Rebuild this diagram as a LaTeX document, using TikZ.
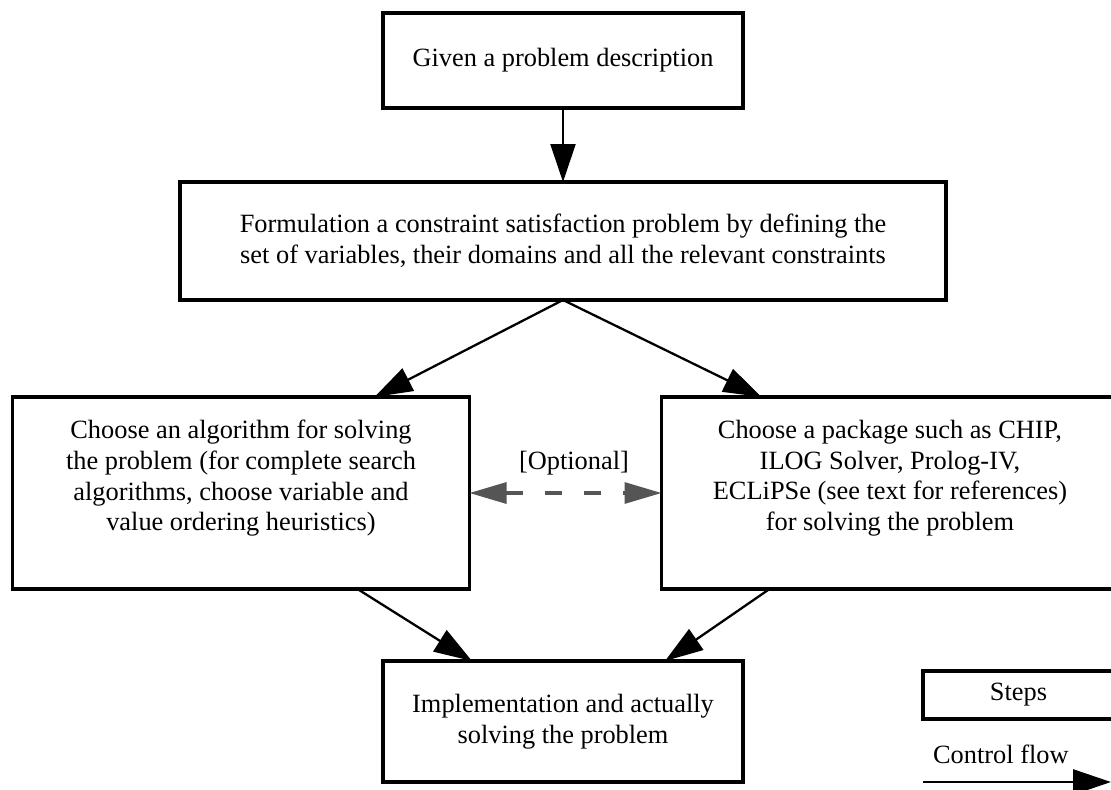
\documentclass[tikz,border=0pt]{standalone}
\usepackage{fontspec}
\setmainfont{Liberation Serif}
\usepackage{xcolor}
\usetikzlibrary{arrows.meta, positioning}

\definecolor{optgray}{RGB}{85,85,85}

\begin{document}
\begin{tikzpicture}[>={Triangle[length=0.76cm, width=0.5cm]}, line width=1.3pt,
    stepbox/.style={draw, rectangle, line width=2pt, outer sep=0pt, align=center, font=\fontsize{15}{17.4}\selectfont},
    flow/.style={->},
    optional/.style={{Triangle[length=0.74cm, width=0.42cm]}-{Triangle[length=0.74cm, width=0.42cm]}, draw=optgray, line width=1.8pt, dash pattern=on 0.34cm off 0.44cm}]

    \path[use as bounding box] (0,0) rectangle (22.22,-15.78);
    \clip (0,0) rectangle (22.22,-15.78);

    % Steps
    \node (given) [stepbox, minimum width=7.2cm, minimum height=1.9cm] at (11.26,-1.21) {Given a problem description};
    \node (formulate) [stepbox, minimum width=15.32cm, minimum height=2.36cm, below=1.48cm of given] {Formulation a constraint satisfaction problem by defining the\\ set of variables, their domains and all the relevant constraints};
    \node (algo) [stepbox, minimum width=9.14cm, minimum height=3.84cm, text depth=20pt, below=1.94cm of formulate, xshift=-6.44cm] {Choose an algorithm for solving\\ the problem (for complete search\\ algorithms, choose variable and\\ value ordering heuristics)};
    \node (package) [stepbox, minimum width=9.14cm, minimum height=3.84cm, text depth=20pt, right=3.84cm of algo] {Choose a package such as CHIP,\\ ILOG Solver, Prolog-IV,\\ ECLiPSe (see text for references)\\ for solving the problem};
    \node (impl) [stepbox, minimum width=7.2cm, minimum height=2.42cm, anchor=north] at ([yshift=-1.44cm]algo.south -| given.south) {Implementation and actually\\ solving the problem};

    % Legend
    \node (legstep) [stepbox, minimum width=3.82cm, minimum height=0.96cm] at (20.37,-13.9) {Steps};
    \node (legflow) [font=\fontsize{15}{17.4}\selectfont, anchor=base west, inner sep=0pt] at (18.64,-15.26) {Control flow};
    \coordinate (flowa) at (18.46,-15.64);
    \coordinate (flowb) at (22.22,-15.64);

    % Links
    \draw[flow] (given) -- (formulate);
    \draw[flow] (formulate.south) -- ([xshift=-1.9cm]algo.north east);
    \draw[flow] (formulate.south) -- ([xshift=2cm]package.north west);
    \draw[flow] ([xshift=-2.24cm]algo.south east) -- ([xshift=1.78cm]impl.north west);
    \draw[flow] ([xshift=2.16cm]package.south west) -- ([xshift=-1.56cm]impl.north east);
    \draw[optional] (algo) -- node[above=0.21cm, xshift=0.17cm, text=black, font=\fontsize{15}{17.4}\selectfont] (opt) {[Optional]} (package);
    \draw[flow, line width=1.6pt] (flowa) -- (flowb);
\end{tikzpicture}
\end{document}
